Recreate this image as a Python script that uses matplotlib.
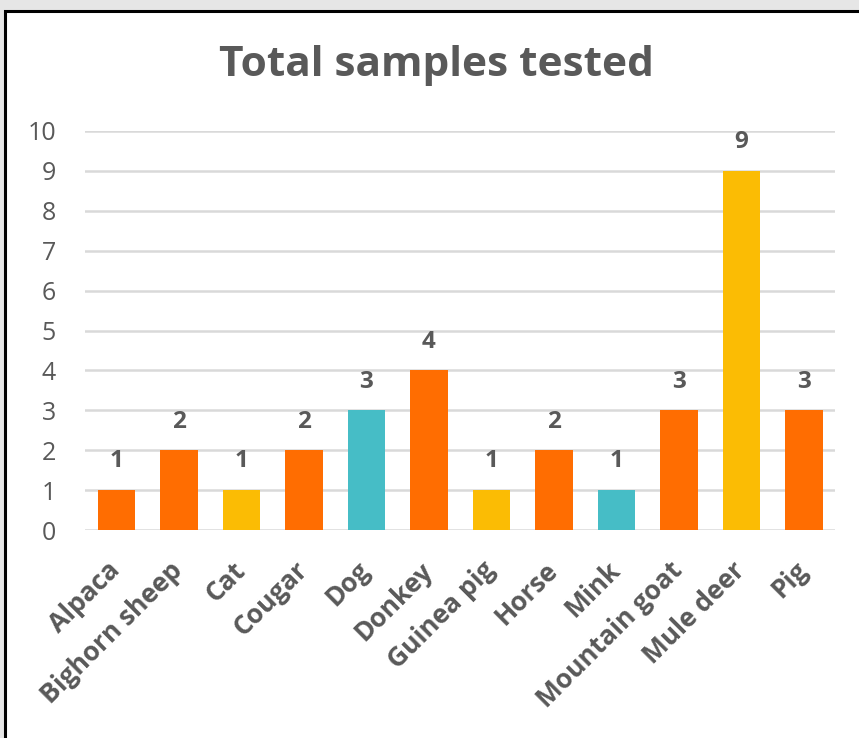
import matplotlib.pyplot as plt
from matplotlib.patches import Rectangle

animals = ["Alpaca", "Bighorn sheep", "Cat", "Cougar", "Dog", "Donkey",
           "Guinea pig", "Horse", "Mink", "Mountain goat", "Mule deer", "Pig"]
samples = [1, 2, 1, 2, 3, 4, 1, 2, 1, 3, 9, 3]
bar_colors = ["#ff6d01", "#ff6d01", "#fbbc04", "#ff6d01", "#46bdc6", "#ff6d01",
              "#fbbc04", "#ff6d01", "#46bdc6", "#ff6d01", "#fbbc04", "#ff6d01"]
y_ticks = list(range(0, 11))

plt.rcParams['font.family'] = ['Open Sans', 'DejaVu Sans']
text_color = "#595959"

fig = plt.figure(figsize=(8.59, 7.38), dpi=100, facecolor="#e6e6e6")

# white panel with a black frame on the top and left
W, H = 859, 738
fig.patches.append(Rectangle((5 / W, -0.1), 1.2, (H - 11) / H + 0.1,
                             transform=fig.transFigure, facecolor="white",
                             edgecolor="black", linewidth=2.2, zorder=-1))

ax = fig.add_axes([85 / W, (H - 530) / H, 750 / W, 399 / H])
ax.set_facecolor("none")

x = range(len(animals))
ax.bar(x, samples, width=0.6, color=bar_colors, zorder=3)

for xi, v in zip(x, samples):
    ax.annotate(str(v), (xi, v), xytext=(0, 12), textcoords="offset points",
                ha="center", va="bottom", fontsize=17.5, fontweight="bold",
                color=text_color)

ax.set_xlim(-0.5, len(animals) - 0.5)
ax.set_ylim(0, 10)
ax.set_yticks(y_ticks)
ax.yaxis.grid(True, color="#d9d9d9", linewidth=1.8, zorder=0)
ax.set_axisbelow(True)

for s in ["top", "right", "left", "bottom"]:
    ax.spines[s].set_visible(False)

ax.tick_params(axis="both", length=0)
ax.tick_params(axis="y", labelsize=18, labelcolor=text_color, pad=21)
ax.set_xticks(list(x))
ax.set_xticklabels(animals, rotation=45, ha="right", va="center",
                   rotation_mode="anchor", fontsize=19, fontweight="bold",
                   color=text_color)
ax.tick_params(axis="x", pad=26)

fig.text(436 / W, (H - 66) / H, "Total samples tested", ha="center", va="center",
         fontsize=30.5, fontweight="bold", color=text_color)

fig.savefig("out.png", dpi=100, facecolor=fig.get_facecolor())
